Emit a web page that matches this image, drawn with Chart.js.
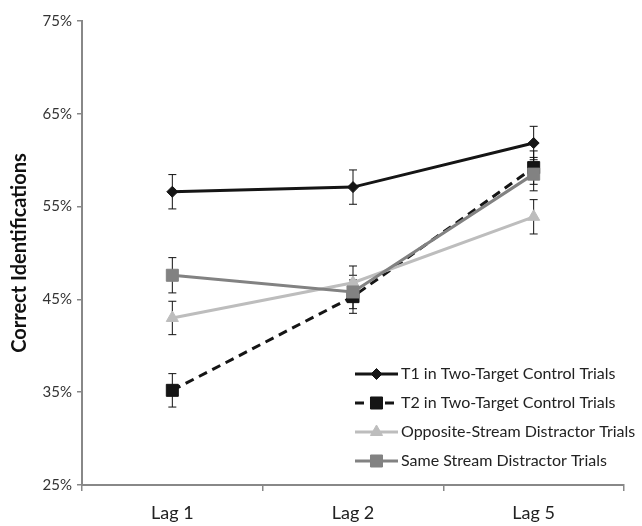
<!DOCTYPE html>
<html>
<head>
<meta charset="utf-8">
<script src="https://cdn.jsdelivr.net/npm/chart.js@4/dist/chart.umd.min.js"></script>
<style>
  html, body { margin: 0; padding: 0; background: #fff; }
  #wrap { width: 642px; height: 526px; position: relative; }
</style>
</head>
<body>
<div id="wrap"><canvas id="grafico"></canvas></div>
<script>
const lags = ["Lag 1", "Lag 2", "Lag 5"];

const seriesNames = [
  "T1 in Two-Target Control Trials",
  "T2 in Two-Target Control Trials",
  "Opposite-Stream Distractor Trials",
  "Same Stream Distractor Trials"
];

const t1Control = [56.6, 57.1, 61.85];
const t2Control = [35.2, 45.3, 59.2];
const oppositeStream = [43.0, 46.8, 53.9];
const sameStream = [47.6, 45.8, 58.5];

const t1Err = [1.85, 1.85, 1.8];
const t2Err = [1.8, 1.8, 1.8];
const oppositeErr = [1.8, 1.8, 1.85];
const sameErr = [1.9, 1.8, 1.8];

const yTicks = [25, 35, 45, 55, 65, 75];

const FONT = "Lato, 'Open Sans', sans-serif";

// barras de error, dibujadas antes de los marcadores
const errorBars = {
  id: "errorBars",
  beforeDatasetsDraw(chart) {
    const { ctx, scales: { x, y } } = chart;
    ctx.save();
    ctx.strokeStyle = "#111";
    ctx.lineWidth = 1;
    chart.data.datasets.forEach(ds => {
      ds.data.forEach((v, i) => {
        const px = x.getPixelForValue(i);
        const top = y.getPixelForValue(v + ds.err[i]);
        const bot = y.getPixelForValue(v - ds.err[i]);
        ctx.beginPath();
        ctx.moveTo(px, top); ctx.lineTo(px, bot);
        ctx.moveTo(px - 4, top); ctx.lineTo(px + 4, top);
        ctx.moveTo(px - 4, bot); ctx.lineTo(px + 4, bot);
        ctx.stroke();
      });
    });
    ctx.restore();
  }
};

// leyenda dentro del área del gráfico, abajo a la derecha
const insideLegend = {
  id: "insideLegend",
  afterDraw(chart) {
    const { ctx, chartArea } = chart;
    const x0 = chartArea.left + 273;
    const y0 = chartArea.bottom - 111;
    ctx.save();
    chart.data.datasets.forEach((ds, k) => {
      const yy = y0 + k * 29;
      ctx.strokeStyle = ds.borderColor;
      ctx.lineWidth = ds.borderWidth;
      ctx.setLineDash(ds.borderDash || []);
      ctx.beginPath();
      ctx.moveTo(x0, yy); ctx.lineTo(x0 + 43, yy);
      ctx.stroke();
      ctx.setLineDash([]);
      ctx.fillStyle = ds.pointBackgroundColor;
      ctx.strokeStyle = ds.pointBorderColor;
      ctx.lineWidth = 1;
      Chart.helpers.drawPoint(ctx, {
        pointStyle: ds.pointStyle,
        radius: ds.pointRadius,
        borderWidth: 1
      }, x0 + 21.5, yy);
      ctx.fillStyle = "#222";
      ctx.font = "16px " + FONT;
      ctx.textBaseline = "middle";
      ctx.fillText(ds.label, x0 + 46, yy);
    });
    ctx.restore();
  }
};

function serie(label, data, err, color, style, radius, dash, order) {
  return {
    label, data, err,
    borderColor: color,
    borderWidth: 3,
    borderDash: dash,
    pointStyle: style,
    pointRadius: radius,
    pointHoverRadius: radius,
    pointBackgroundColor: color,
    pointBorderColor: color,
    pointBorderWidth: 1,
    tension: 0,
    order
  };
}

new Chart(document.getElementById("grafico"), {
  type: "line",
  data: {
    labels: lags,
    datasets: [
      serie(seriesNames[0], t1Control, t1Err, "#151515", "rectRot", 5.5, [], 4),
      serie(seriesNames[1], t2Control, t2Err, "#151515", "rect", 8.5, [9, 6], 3),
      serie(seriesNames[2], oppositeStream, oppositeErr, "#bdbdbd", "triangle", 7, [], 2),
      serie(seriesNames[3], sameStream, sameErr, "#828282", "rect", 8.5, [], 1)
    ]
  },
  options: {
    responsive: true,
    maintainAspectRatio: false,
    animation: false,
    layout: { padding: { top: 21, right: 18, bottom: 0, left: 8 } },
    plugins: {
      legend: { display: false },
      tooltip: { enabled: false }
    },
    scales: {
      x: {
        offset: true,
        afterFit(scale) { scale.height = 41; },
        grid: {
          offset: true,
          drawOnChartArea: false,
          drawTicks: true,
          tickLength: 6,
          color: "#888",
          lineWidth: 1.5
        },
        border: { color: "#888", width: 2 },
        ticks: { color: "#222", font: { family: FONT, size: 18 }, padding: 11 }
      },
      y: {
        min: 25,
        max: 75,
        afterBuildTicks(scale) {
          scale.ticks = yTicks.map(v => ({ value: v }));
        },
        afterFit(scale) { scale.width = 74; },
        grid: {
          drawOnChartArea: false,
          drawTicks: true,
          tickLength: 5,
          color: "#888",
          lineWidth: 1.5
        },
        border: { color: "#888", width: 2 },
        ticks: {
          color: "#333",
          font: { family: FONT, size: 15 },
          padding: 5,
          callback: v => v + "%"
        },
        title: {
          display: true,
          text: "Correct Identifications",
          color: "#111",
          font: { family: FONT, size: 20, weight: "bold" },
          padding: { top: 0, bottom: 4 }
        }
      }
    }
  },
  plugins: [errorBars, insideLegend]
});
</script>
</body>
</html>
